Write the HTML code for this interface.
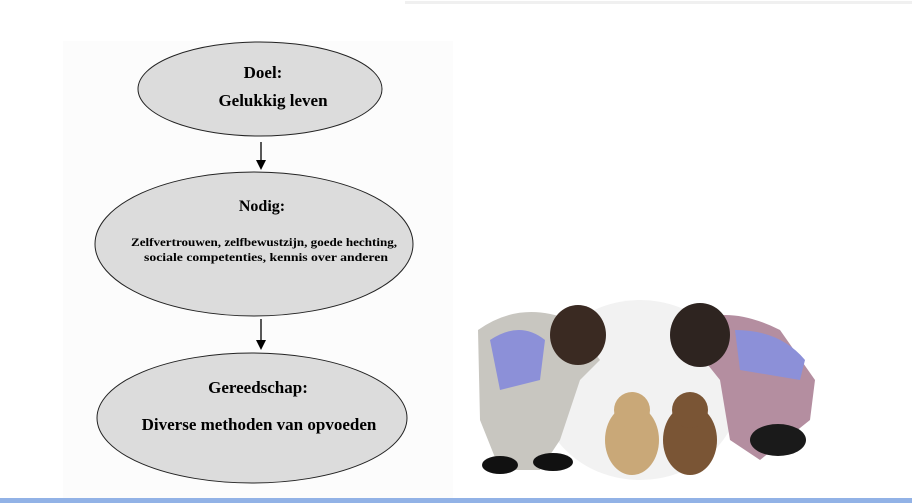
<!DOCTYPE html>
<html><head><style>
html,body{margin:0;padding:0;background:#fff;width:912px;height:503px;overflow:hidden}
</style></head><body>
<svg width="912" height="503" xmlns="http://www.w3.org/2000/svg" style="position:absolute;left:0;top:0">
<rect x="0" y="0" width="912" height="503" fill="#fff"/>
<rect x="405" y="1" width="507" height="3" fill="#f0f0f0"/>
<rect x="63" y="41" width="390" height="457" fill="#fcfcfc"/>
<rect x="0" y="498" width="912" height="5" fill="#92b2e6"/>
<g font-family="Liberation Serif, serif" font-weight="bold" text-anchor="middle" fill="#000">
<ellipse cx="260" cy="89" rx="122" ry="47" fill="#dcdcdc" stroke="#222" stroke-width="1"/>
<text x="263" y="78" font-size="17">Doel:</text>
<text x="273" y="106" font-size="17">Gelukkig leven</text>
<line x1="261" y1="142" x2="261" y2="162" stroke="#000" stroke-width="1.3"/>
<polygon points="256,160 266,160 261,170" fill="#000"/>
<ellipse cx="254" cy="244" rx="159" ry="72" fill="#dcdcdc" stroke="#222" stroke-width="1"/>
<text x="262" y="211" font-size="16">Nodig:</text>
<text x="264" y="246" font-size="12" textLength="266" lengthAdjust="spacingAndGlyphs">Zelfvertrouwen, zelfbewustzijn, goede hechting,</text>
<text x="266" y="261" font-size="12" textLength="244" lengthAdjust="spacingAndGlyphs">sociale competenties, kennis over anderen</text>
<line x1="261" y1="319" x2="261" y2="342" stroke="#000" stroke-width="1.3"/>
<polygon points="256,340 266,340 261,350" fill="#000"/>
<ellipse cx="252" cy="418" rx="155" ry="65" fill="#dcdcdc" stroke="#222" stroke-width="1"/>
<text x="258" y="393" font-size="17">Gereedschap:</text>
<text x="259" y="430" font-size="17">Diverse methoden van opvoeden</text>
</g>
<g>
<ellipse cx="640" cy="390" rx="100" ry="90" fill="#f2f2f2"/>
<path d="M478 330 Q520 300 570 320 L600 360 L580 380 L560 440 L540 470 L500 470 L480 420 z" fill="#c8c6c0"/>
<ellipse cx="578" cy="335" rx="28" ry="30" fill="#3a2a22"/>
<path d="M490 340 Q520 320 545 340 L540 380 L500 390 z" fill="#8c90d8"/>
<ellipse cx="500" cy="465" rx="18" ry="9" fill="#111"/>
<ellipse cx="553" cy="462" rx="20" ry="9" fill="#111"/>
<path d="M680 330 Q720 300 780 330 L815 380 L810 420 L760 460 L730 440 L720 380 z" fill="#b48ea0"/>
<ellipse cx="700" cy="335" rx="30" ry="32" fill="#2e2420"/>
<path d="M735 330 Q780 330 805 360 L800 380 L740 370 z" fill="#8c90d8"/>
<ellipse cx="778" cy="440" rx="28" ry="16" fill="#1a1a1a"/>
<ellipse cx="632" cy="440" rx="27" ry="35" fill="#c9a878"/>
<circle cx="632" cy="410" r="18" fill="#c9a878"/>
<ellipse cx="690" cy="440" rx="27" ry="35" fill="#7a5535"/>
<circle cx="690" cy="410" r="18" fill="#7a5535"/>
</g>
</svg>
</body></html>
